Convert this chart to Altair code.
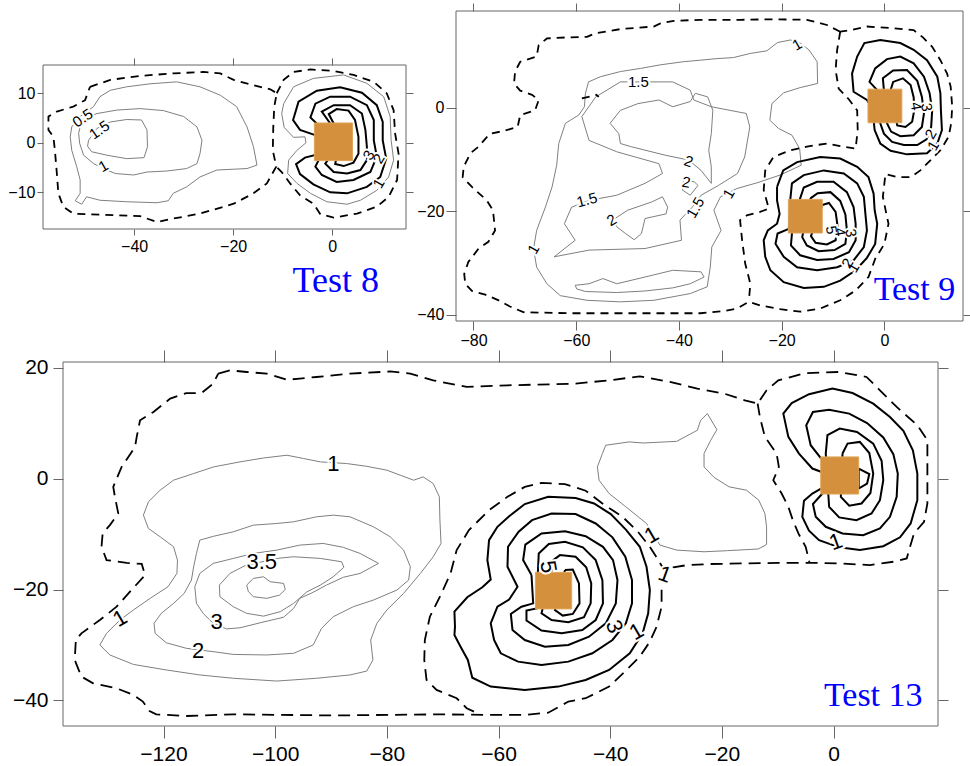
import altair as alt
import pandas as pd

ORANGE = "#d4903c"
GRAY = "#7f7f7f"

# ================= Test 8 =================
T8_XDOM = [-58.4, 14.9]
T8_YDOM = [-17.4, 15.7]
T8_XTICKS = [-40, -20, 0]
T8_YTICKS = [-10, 0, 10]

T8_DASH_A = [(-48.9, 11.3), (-44.8, 12.7), (-38.8, 13.5), (-32.1, 14.0), (-26.0, 14.3), (-22.6, 14.0),
             (-19.9, 12.7), (-15.9, 11.6), (-12.5, 10.8), (-11.2, 10.0), (-11.7, 7.3), (-11.9, 3.2),
             (-12.0, -1.5), (-11.3, -4.8), (-13.2, -8.2), (-15.9, -10.2), (-19.9, -12.3), (-26.7, -14.3),
             (-32.1, -15.3), (-35.4, -16.0), (-38.8, -14.8), (-44.2, -14.6), (-52.3, -14.3), (-54.3, -12.9),
             (-55.3, -10.2), (-55.6, -6.2), (-56.0, -1.5), (-56.3, 1.2), (-57.3, 2.6), (-57.3, 5.3),
             (-55.6, 6.3), (-52.3, 7.3), (-49.9, 8.6)]
T8_DASH_B = [(-11.2, 10.0), (-9.8, 12.7), (-7.8, 14.3), (-4.4, 14.8), (0.3, 14.5), (4.3, 13.7), (8.4, 12.3),
             (11.0, 10.0), (12.4, 6.6), (12.7, 1.9), (13.4, -2.2), (13.1, -7.5), (11.4, -10.9), (9.0, -12.9),
             (5.0, -14.3), (0.3, -15.1), (-2.4, -14.4), (-3.8, -12.3), (-6.5, -10.6), (-8.5, -8.2),
             (-10.2, -5.9), (-11.3, -4.8)]
T8_THIN_05 = [(-50.9, 5.3), (-48.2, 7.3), (-46.9, 9.3), (-44.8, 10.6), (-41.5, 11.3), (-36.8, 11.9),
              (-31.4, 12.3), (-26.7, 11.3), (-22.6, 9.6), (-19.3, 7.3), (-17.2, 3.2), (-15.9, -0.8),
              (-15.2, -4.5), (-17.2, -5.2), (-23.3, -5.5), (-26.7, -6.9), (-29.4, -8.9), (-32.1, -10.2),
              (-33.1, -11.7), (-35.4, -12.1), (-41.5, -11.9), (-46.9, -11.6), (-49.6, -10.9), (-50.6, -12.4),
              (-51.9, -11.7), (-50.9, -10.2), (-50.9, -7.5), (-51.6, -4.8), (-52.6, -1.5), (-52.9, 1.2),
              (-52.6, 3.2)]
T8_THIN_1 = [(-51.2, 1.9), (-50.6, 4.6), (-47.5, 5.9), (-43.5, 6.6), (-38.8, 6.9), (-34.1, 6.5), (-30.0, 5.3),
             (-27.3, 3.2), (-26.3, 0.5), (-26.7, -2.2), (-27.3, -4.2), (-29.4, -5.2), (-33.4, -5.7),
             (-37.4, -5.9), (-40.1, -6.5), (-43.8, -6.2), (-45.5, -5.5), (-48.2, -4.2), (-50.2, -2.5),
             (-51.0, -0.1)]
T8_THIN_15 = [(-49.2, 0.5), (-47.5, 2.9), (-44.8, 4.2), (-41.5, 4.7), (-38.5, 4.6), (-37.4, 2.6), (-37.3, -0.8),
              (-38.0, -3.0), (-41.5, -3.2), (-45.5, -2.5), (-48.6, -1.8), (-49.4, -0.7)]
T8_THIN_SRC = [(-9.8, 7.9), (-7.8, 11.3), (-3.8, 13.0), (2.3, 13.7), (7.0, 12.0), (10.4, 9.3), (11.7, 5.3),
               (11.9, 0.5), (12.4, -3.5), (11.4, -6.9), (9.0, -9.6), (5.7, -11.6), (3.0, -12.4), (-1.1, -11.9),
               (-4.4, -10.2), (-7.1, -8.2), (-9.0, -6.2), (-8.8, -3.5), (-7.1, -1.5), (-5.3, 0.0), (-5.5, 1.2),
               (-7.8, 1.1), (-9.7, 3.1), (-10.2, 5.9)]
T8_RING_1 = [(-2.4, 1.2), (-6.5, 2.6), (-7.9, 4.6), (-6.8, 8.3), (-3.1, 10.5), (1.6, 11.2), (6.0, 10.1),
             (9.0, 7.6), (10.2, 4.2), (10.2, 0.5), (10.9, -3.2), (9.7, -6.9), (7.0, -8.9), (3.0, -10.2),
             (-0.4, -10.0), (-3.8, -8.4), (-6.5, -6.3), (-7.3, -4.3), (-5.5, -3.0), (-2.4, -2.2)]
T8_RING_2 = [(-2.4, 3.2), (-4.4, 5.1), (-3.4, 7.9), (-0.4, 9.3), (3.6, 9.3), (7.0, 7.6), (8.4, 4.6), (8.4, 0.5),
             (9.0, -2.8), (7.7, -5.9), (4.3, -7.5), (0.9, -7.9), (-2.1, -6.5), (-3.4, -4.8), (-2.4, -2.8)]
T8_RING_3 = [(-0.4, 3.9), (-2.1, 6.3), (0.3, 7.6), (3.6, 7.6), (6.0, 5.9), (6.7, 2.6), (7.0, -0.8), (7.0, -3.5),
             (5.7, -5.5), (3.0, -6.2), (0.3, -5.9), (-1.4, -4.2), (-0.4, -2.8)]
T8_RING_4 = [(0.3, 3.9), (-0.7, 5.8), (0.9, 6.8), (3.3, 6.5), (4.6, 4.6), (5.3, 1.2), (5.3, -2.2), (4.3, -4.0),
             (2.3, -4.7), (0.6, -4.3), (0.9, -2.8)]
T8_BOXES = [(-3.6, 4.1, -3.6, 4.0)]
T8_LABELS = [("0.5", -50.4, 5.0, 325), ("1.5", -47.0, 2.6, 325), ("1", -46.2, -4.7, 330),
             ("3", 7.4, -2.5, 300), ("2", 9.4, -3.2, 300), ("1", 9.4, -8.2, 300)]
T8_NAME = ("Test 8", 0.7, -30.2)

# ================= Test 9 =================
T9_XDOM = [-83.4, 15.3]
T9_YDOM = [-41.2, 18.7]
T9_XTICKS = [-80, -60, -40, -20, 0]
T9_YTICKS = [-40, -20, 0]

T9_DASH_OUT = [(-8.6, 14.7), (-11.2, 16.0), (-15.1, 17.0), (-21.6, 17.1), (-28.1, 17.0), (-35.8, 17.0),
               (-41.0, 16.8), (-43.6, 16.3), (-44.9, 15.7), (-51.4, 15.2), (-56.3, 14.4), (-57.9, 13.7),
               (-61.8, 13.6), (-65.7, 13.4), (-67.3, 12.1), (-67.7, 9.9), (-70.9, 8.9), (-71.9, 7.0),
               (-72.1, 4.7), (-70.9, 3.3), (-68.6, 2.5), (-67.3, 1.5), (-68.0, -0.5), (-70.9, -1.4),
               (-71.4, -3.7), (-74.2, -4.5), (-76.8, -5.0), (-79.0, -7.5), (-80.6, -8.8), (-81.9, -11.4),
               (-82.1, -13.4), (-80.3, -15.3), (-77.4, -17.9), (-76.2, -19.8), (-75.8, -23.7), (-77.1, -25.9),
               (-79.0, -27.2), (-81.0, -29.8), (-81.8, -32.1), (-81.6, -34.0), (-80.3, -35.4), (-77.7, -36.1),
               (-75.1, -37.2), (-72.9, -38.4), (-70.3, -39.5), (-61.2, -39.7), (-48.2, -39.7), (-35.8, -39.7),
               (-31.3, -39.3), (-28.7, -38.8), (-26.4, -37.5), (-24.2, -38.2), (-20.3, -38.9), (-16.4, -39.4),
               (-12.5, -38.8), (-8.6, -37.2), (-5.6, -35.3), (-3.1, -32.7), (-1.8, -29.2), (0.0, -26.3),
               (0.8, -22.4), (0.5, -21.1), (-0.3, -17.2), (0.2, -12.8), (2.5, -13.4), (5.1, -13.4),
               (7.0, -12.1), (9.0, -10.1), (10.9, -8.2), (12.5, -5.6), (13.0, -3.0), (13.2, 0.2), (12.9, 4.1),
               (12.2, 6.6), (10.9, 9.2), (9.3, 11.8), (7.5, 13.6), (5.7, 15.0), (1.2, 15.4), (-3.4, 15.7),
               (-6.6, 15.0)]
T9_DASH_IN = [(-8.6, 14.7), (-9.2, 11.2), (-9.5, 7.3), (-8.9, 3.7), (-6.9, 1.6), (-5.3, -0.5), (-5.2, -4.3),
              (-5.6, -7.9), (-8.6, -7.4), (-11.2, -6.9), (-15.1, -7.5), (-18.3, -8.2), (-21.6, -9.5),
              (-23.2, -12.1), (-23.5, -15.9), (-22.5, -19.5), (-24.2, -20.1), (-26.8, -20.8), (-28.1, -21.7),
              (-27.7, -25.6), (-27.1, -30.1), (-26.1, -34.0), (-26.4, -37.5)]
T9_DASH_BIT = [(-58.9, 1.8), (-56.1, 2.5), (-55.6, 2.1)]
T9_THIN_1 = [(-68.3, -27.2), (-67.7, -23.7), (-66.0, -19.2), (-64.7, -15.3), (-63.8, -11.1), (-63.4, -6.9),
             (-62.1, -3.0), (-59.5, -1.4), (-58.4, 0.2), (-58.2, 2.8), (-57.6, 5.0), (-55.3, 6.0), (-51.4, 7.0),
             (-47.5, 7.6), (-43.6, 8.3), (-39.1, 8.9), (-35.8, 9.2), (-32.6, 9.5), (-29.4, 9.7), (-26.1, 10.5),
             (-22.9, 11.0), (-20.8, 12.6), (-18.3, 13.1), (-16.4, 12.5), (-14.7, 11.2), (-13.1, 8.9),
             (-13.0, 4.7), (-16.4, 3.9), (-19.6, 2.9), (-21.9, 0.8), (-22.3, -2.4), (-20.6, -4.0),
             (-18.0, -5.3), (-16.5, -7.9), (-16.2, -11.1), (-20.3, -13.0), (-24.8, -14.5), (-28.7, -15.6),
             (-31.9, -17.2), (-33.2, -19.8), (-31.8, -23.7), (-33.6, -26.9), (-33.9, -30.8), (-34.5, -34.6),
             (-37.8, -35.9), (-44.9, -37.2), (-51.4, -37.5), (-57.9, -37.2), (-63.1, -36.3), (-65.7, -34.0),
             (-67.7, -30.8)]
T9_THIN_15 = [(-48.0, 5.0), (-41.2, 5.0), (-37.8, 3.4), (-37.1, 1.5), (-33.7, 0.2), (-26.9, -1.1), (-26.2, -3.7),
              (-27.2, -9.5), (-28.6, -12.7), (-32.3, -15.0), (-35.7, -16.9), (-37.4, -19.2), (-39.8, -21.7),
              (-39.5, -25.6), (-46.6, -27.2), (-57.5, -27.5), (-64.3, -28.8), (-60.2, -25.6), (-62.3, -22.4),
              (-60.9, -19.2), (-57.5, -17.9), (-52.1, -16.9), (-46.6, -14.6), (-43.2, -12.7), (-43.9, -10.8),
              (-52.1, -8.5), (-57.5, -6.3), (-58.9, -1.7), (-56.2, 2.1), (-51.4, 5.0)]
T9_THIN_2A = [(-33.7, -14.6), (-35.7, -12.1), (-38.1, -10.1), (-42.5, -9.2), (-49.4, -7.5), (-51.4, -6.9),
              (-51.7, -5.0), (-53.4, -3.0), (-51.4, -0.5), (-48.0, 0.8), (-43.9, 1.5), (-41.2, 0.2), (-37.8, 1.2),
              (-36.8, 2.8), (-34.4, 2.1), (-33.4, -0.5), (-33.7, -5.0), (-34.2, -8.2), (-33.7, -11.4)]
T9_THIN_2B = [(-52.9, -21.7), (-50.0, -19.8), (-45.3, -18.2), (-43.2, -17.2), (-42.2, -19.2), (-42.5, -20.5),
              (-46.6, -21.4), (-47.3, -24.3), (-48.7, -25.5), (-50.4, -24.3), (-52.1, -23.0)]
T9_THIN_2C = [(-39.1, -14.0), (-37.0, -14.3), (-36.3, -15.0), (-37.8, -16.9), (-39.3, -15.9)]
T9_THIN_BOT = [(-60.2, -34.3), (-57.5, -34.0), (-54.8, -33.0), (-52.1, -34.0), (-46.6, -32.7), (-41.2, -31.4),
               (-35.7, -31.7), (-35.1, -32.7), (-37.8, -34.0), (-41.2, -34.8), (-46.6, -35.4), (-52.1, -35.7),
               (-58.2, -35.5), (-59.9, -35.0)]
T9_UP_1 = [(-2.1, -0.5), (-3.4, 1.5), (-6.0, 3.1), (-6.3, 6.6), (-5.3, 9.9), (-3.9, 12.5), (-0.8, 13.1),
           (3.1, 12.5), (5.7, 11.2), (8.3, 9.2), (10.3, 6.0), (10.9, 2.8), (11.0, -0.5), (11.2, -4.3),
           (10.3, -6.9), (8.3, -8.8), (4.4, -9.0), (1.2, -8.3), (-0.8, -6.9), (-1.9, -4.3), (-2.1, -2.4)]
T9_UP_2 = [(-1.4, 3.4), (-2.9, 5.0), (-1.8, 7.6), (0.5, 9.4), (3.1, 9.9), (5.7, 8.6), (7.7, 6.0), (8.8, 2.8),
           (9.3, -0.5), (9.1, -3.7), (8.2, -6.1), (6.4, -7.2), (3.8, -7.2), (1.5, -6.6), (-0.1, -5.0),
           (-0.8, -3.0)]
T9_UP_3 = [(-0.1, 3.4), (-0.3, 5.7), (1.7, 7.2), (4.4, 7.3), (6.4, 5.2), (7.3, 2.1), (7.7, -1.1), (7.3, -3.7),
           (5.7, -5.3), (3.1, -5.5), (1.3, -4.6), (0.5, -3.0)]
T9_UP_4 = [(1.2, 3.4), (1.7, 5.0), (3.6, 5.7), (5.1, 4.4), (5.7, 2.0), (5.8, -0.5), (5.4, -2.7), (4.1, -3.7),
           (2.5, -3.4)]
T9_LO_1 = [(-20.9, -15.3), (-19.7, -12.1), (-17.0, -10.5), (-12.5, -9.5), (-8.6, -9.8), (-5.3, -11.4),
           (-3.1, -13.4), (-2.1, -16.6), (-1.9, -19.8), (-1.4, -22.4), (-1.8, -26.3), (-3.4, -29.0),
           (-5.6, -31.4), (-8.6, -33.4), (-11.8, -34.6), (-15.7, -34.8), (-19.6, -33.7), (-22.2, -31.4),
           (-23.2, -28.8), (-23.5, -25.6), (-22.7, -23.7), (-20.9, -22.4), (-20.4, -20.5), (-20.9, -17.9)]
T9_LO_2 = [(-18.3, -17.5), (-18.0, -14.6), (-15.7, -13.0), (-11.8, -12.1), (-7.9, -12.7), (-5.3, -14.6),
           (-4.0, -17.2), (-3.7, -20.5), (-3.4, -23.7), (-4.0, -26.9), (-6.0, -29.5), (-9.2, -30.8),
           (-13.1, -31.4), (-17.0, -30.8), (-19.6, -28.8), (-21.2, -26.3), (-20.8, -24.3), (-18.6, -23.4)]
T9_LO_3 = [(-16.4, -17.5), (-15.7, -15.4), (-13.1, -14.3), (-9.9, -14.3), (-7.3, -16.3), (-6.0, -19.2),
           (-5.6, -22.4), (-5.6, -25.6), (-6.9, -27.9), (-9.9, -29.2), (-13.1, -29.4), (-16.4, -28.5),
           (-18.2, -26.6), (-18.0, -24.3)]
T9_LO_4 = [(-14.4, -17.5), (-13.0, -16.5), (-10.5, -16.3), (-8.6, -18.0), (-7.6, -20.6), (-7.3, -23.7),
           (-7.6, -26.3), (-9.7, -27.5), (-12.8, -27.7), (-15.1, -26.6), (-16.0, -25.0)]
T9_LO_5 = [(-12.1, -18.8), (-10.8, -18.4), (-9.5, -20.1), (-9.1, -23.0), (-9.5, -25.6), (-11.2, -26.4),
           (-13.4, -26.1), (-14.3, -24.8)]
T9_BOXES = [(-3.2, 3.4, -2.9, 3.6), (-18.7, -12.1, -24.2, -17.7)]
T9_LABELS = [("1", -17.0, 12.2, 330), ("1.5", -47.9, 5.0, 0), ("2", -38.1, -10.4, 20), ("2", -38.6, -14.4, 10),
             ("1.5", -57.9, -17.8, 345), ("2", -53.1, -21.7, 330), ("1.5", -36.8, -19.3, 300),
             ("1", -30.3, -16.6, 300), ("1", -68.3, -27.3, 300), ("4", 6.2, 0.3, 80), ("3", 8.2, 0.1, 80),
             ("2", 9.0, -5.1, 300), ("1", 9.5, -7.3, 300), ("5", -10.3, -23.6, 80), ("4", -8.6, -24.0, 80),
             ("3", -6.5, -24.2, 80), ("2", -7.2, -30.0, 300), ("1", -6.0, -30.9, 300)]
T9_NAME = ("Test 9", 5.85, -37.1)

# ================= Test 13 =================
T13_XDOM = [-138.0, 18.7]
T13_YDOM = [-44.6, 21.0]
T13_XTICKS = [-120, -100, -80, -60, -40, -20, 0]
T13_YTICKS = [-40, -20, 0, 20]

T13_DASH_OUT = [(-110.2, 18.9), (-108.1, 19.5), (-105.1, 19.2), (-101.5, 18.9), (-97.9, 17.8), (-95.6, 18.0),
                (-92.6, 18.3), (-86.6, 18.9), (-79.4, 19.3), (-75.8, 18.9), (-71.7, 17.7), (-65.7, 16.5),
                (-58.4, 16.8), (-46.2, 17.1), (-40.2, 17.7), (-34.7, 18.4), (-29.3, 17.4), (-24.4, 16.2),
                (-19.6, 15.3), (-15.9, 14.1), (-13.6, 13.5), (-12.0, 15.9), (-9.9, 17.7), (-5.0, 19.0),
                (1.0, 19.2), (5.9, 18.3), (8.3, 15.9), (11.3, 12.9), (15.0, 9.6), (16.8, 6.9), (16.8, 0.9),
                (16.8, -4.5), (16.2, -7.8), (14.4, -9.9), (13.6, -12.6), (13.1, -14.4), (10.7, -15.0),
                (6.5, -15.6), (1.0, -15.3), (-3.8, -15.2), (-9.9, -15.2), (-15.9, -15.3), (-22.0, -15.4),
                (-26.2, -15.6), (-28.7, -16.0), (-30.0, -17.1), (-30.8, -19.5), (-30.8, -23.1), (-31.7, -26.7),
                (-32.9, -29.4), (-34.7, -32.1), (-37.4, -34.8), (-40.2, -37.5), (-44.4, -39.6), (-47.5, -40.2),
                (-51.1, -42.2), (-55.3, -42.6), (-61.4, -42.6), (-70.5, -42.5), (-89.6, -42.7), (-107.5, -42.5),
                (-115.9, -42.8), (-121.3, -42.5), (-122.5, -41.9), (-123.7, -40.2), (-125.4, -39.0),
                (-128.4, -37.8), (-132.6, -36.9), (-134.7, -35.7), (-135.9, -32.7), (-135.7, -29.1),
                (-134.7, -27.9), (-131.4, -25.5), (-128.4, -23.1), (-126.0, -20.4), (-123.3, -17.4),
                (-123.9, -15.4), (-126.6, -15.2), (-130.2, -14.7), (-131.1, -12.3), (-130.9, -9.9),
                (-129.6, -8.4), (-128.1, -6.3), (-128.7, -3.3), (-129.0, -1.5), (-127.5, 2.1), (-125.1, 5.7),
                (-124.8, 7.5), (-124.2, 10.5), (-121.8, 12.0), (-118.8, 14.4), (-115.9, 15.4), (-113.2, 15.4),
                (-111.1, 17.1)]
T13_DASH_IN1 = [(-13.6, 13.5), (-13.2, 11.1), (-12.3, 7.5), (-10.2, 4.5), (-9.8, 2.1), (-10.8, -0.3), (-9.3, -2.7),
                (-8.1, -5.1), (-7.3, -7.5), (-6.3, -9.9), (-5.0, -12.3), (-4.3, -15.2)]
T13_DASH_IN2 = [(-30.0, -17.1), (-31.4, -14.7), (-32.9, -12.3), (-35.2, -9.4), (-37.8, -6.9), (-41.4, -4.5),
                (-44.4, -2.2), (-48.1, -1.0), (-52.3, -0.8), (-55.3, -1.5), (-58.4, -3.3), (-61.7, -5.7),
                (-65.3, -9.3), (-67.5, -12.9), (-68.6, -17.1), (-70.5, -21.3), (-72.3, -24.9), (-73.2, -29.1),
                (-73.3, -32.7), (-72.9, -36.3), (-71.1, -38.1), (-67.5, -39.6), (-65.7, -41.4), (-63.3, -42.5)]
T13_THIN_1 = [(-87.2, 2.7), (-83.6, 2.2), (-80.0, 1.5), (-77.6, 0.6), (-75.2, -0.3), (-73.5, 0.3), (-71.7, -0.9),
              (-70.6, -3.3), (-70.5, -7.5), (-70.3, -11.7), (-71.7, -14.1), (-74.0, -17.1), (-77.0, -20.7),
              (-80.0, -23.7), (-81.8, -26.1), (-82.9, -29.1), (-82.5, -32.7), (-83.6, -34.7), (-86.6, -35.4),
              (-92.6, -36.0), (-99.7, -36.5), (-107.5, -36.0), (-113.5, -35.4), (-119.5, -34.5), (-125.4, -33.5),
              (-129.6, -31.8), (-131.4, -30.0), (-130.2, -27.9), (-127.8, -25.5), (-125.4, -23.7),
              (-122.4, -21.6), (-119.2, -19.5), (-117.6, -17.1), (-117.5, -14.7), (-118.2, -12.3),
              (-120.6, -10.5), (-122.7, -9.0), (-123.6, -6.6), (-122.7, -4.2), (-120.6, -2.1), (-118.2, -0.3),
              (-114.6, 0.9), (-111.0, 2.1), (-106.3, 3.0), (-102.1, 3.7), (-97.9, 4.2), (-94.9, 3.6),
              (-91.9, 3.0)]
T13_THIN_2 = [(-113.5, -11.1), (-111.0, -10.4), (-107.5, -9.6), (-103.9, -8.4), (-99.7, -8.1), (-96.7, -7.8),
              (-92.6, -6.9), (-89.6, -6.6), (-86.6, -6.9), (-82.4, -8.7), (-79.4, -10.5), (-77.0, -12.9),
              (-75.8, -15.9), (-76.1, -18.3), (-78.2, -20.1), (-82.4, -21.9), (-86.0, -23.1), (-89.6, -24.9),
              (-91.7, -27.0), (-93.2, -30.0), (-96.7, -31.5), (-101.5, -31.8), (-107.5, -31.7), (-111.1, -31.2),
              (-115.9, -30.6), (-119.5, -29.6), (-121.5, -27.9), (-121.7, -26.1), (-120.4, -24.3),
              (-118.2, -22.5), (-116.3, -20.7), (-115.0, -18.3), (-114.6, -15.9), (-114.1, -13.5)]
T13_THIN_3 = [(-113.5, -17.1), (-111.1, -15.3), (-107.5, -14.4), (-103.9, -13.5), (-99.7, -12.9), (-95.6, -12.0),
              (-91.4, -11.7), (-87.8, -12.4), (-84.8, -13.5), (-81.5, -15.3), (-84.8, -17.1), (-87.8, -17.8),
              (-90.8, -19.2), (-93.4, -20.6), (-95.6, -21.6), (-96.7, -23.4), (-98.5, -25.0), (-102.7, -26.0),
              (-106.3, -26.9), (-108.7, -27.1), (-111.1, -26.1), (-112.9, -24.3), (-114.1, -22.5),
              (-114.4, -19.5)]
T13_THIN_35 = [(-99.7, -14.4), (-96.7, -14.1), (-91.9, -14.4), (-88.1, -15.0), (-87.7, -16.0), (-89.6, -17.7),
               (-91.9, -19.2), (-94.3, -20.4), (-96.7, -22.5), (-99.1, -24.0), (-102.1, -24.8), (-105.1, -24.3),
               (-107.5, -23.1), (-109.9, -21.3), (-110.0, -19.2), (-108.1, -17.1), (-105.4, -15.7)]
T13_THIN_4 = [(-105.1, -19.2), (-103.9, -18.0), (-102.1, -17.7), (-100.9, -18.6), (-98.5, -18.9), (-98.2, -20.0),
              (-99.2, -21.0), (-101.5, -21.6), (-103.9, -21.3), (-104.8, -20.4)]
T13_THIN_MID = [(-41.4, 4.5), (-40.8, 6.0), (-36.6, 6.6), (-34.1, 6.4), (-28.1, 6.7), (-24.4, 8.7), (-23.8, 10.5),
                (-22.6, 11.7), (-20.9, 8.8), (-22.0, 6.9), (-23.2, 4.5), (-23.2, 2.1), (-21.4, 0.2), (-18.7, -1.5),
                (-15.6, -2.1), (-13.4, -3.9), (-12.3, -6.3), (-12.0, -8.7), (-12.0, -11.9), (-13.5, -12.7),
                (-19.0, -13.0), (-23.2, -13.2), (-28.1, -12.9), (-31.1, -12.0), (-33.5, -8.1), (-37.2, -5.1),
                (-40.2, -2.7), (-42.0, -0.3), (-42.3, 2.1)]
T13_LO_1 = [(-67.8, -26.7), (-67.9, -24.0), (-65.6, -21.4), (-62.9, -19.6), (-61.4, -18.2), (-62.0, -14.7),
            (-61.7, -11.1), (-60.2, -8.7), (-58.1, -6.8), (-55.3, -4.6), (-51.1, -3.3), (-46.2, -3.5),
            (-42.9, -4.5), (-39.9, -6.4), (-37.2, -9.2), (-34.7, -12.3), (-33.5, -15.9), (-32.9, -20.1),
            (-33.2, -24.3), (-34.2, -27.9), (-36.5, -31.5), (-40.2, -34.5), (-44.4, -36.3), (-49.3, -37.5),
            (-55.3, -38.1), (-61.4, -37.5), (-64.7, -35.9), (-65.5, -32.7), (-66.8, -30.3), (-67.9, -28.2)]
T13_LO_2 = [(-60.8, -29.1), (-61.4, -26.1), (-60.2, -23.1), (-58.1, -21.8), (-56.6, -19.5), (-58.4, -15.9),
            (-58.3, -12.3), (-56.4, -9.6), (-54.0, -7.5), (-50.5, -6.3), (-46.2, -6.4), (-42.6, -8.1),
            (-39.6, -10.6), (-37.3, -14.1), (-36.1, -18.3), (-36.1, -22.5), (-37.2, -26.1), (-39.6, -29.1),
            (-43.2, -31.5), (-47.5, -33.0), (-52.3, -33.6), (-56.5, -33.0), (-59.6, -31.5)]
T13_LO_3 = [(-54.1, -17.4), (-55.6, -14.7), (-55.2, -11.9), (-52.3, -9.9), (-48.1, -9.5), (-44.4, -10.4),
            (-41.3, -12.3), (-39.5, -14.7), (-38.7, -18.3), (-39.0, -22.5), (-40.8, -26.1), (-43.8, -28.5),
            (-47.5, -30.0), (-51.7, -30.3), (-55.3, -29.1), (-57.5, -27.3), (-57.8, -24.4), (-55.9, -23.1),
            (-53.8, -22.5)]
T13_LO_4 = [(-52.9, -15.6), (-52.8, -13.5), (-51.0, -11.8), (-48.1, -11.4), (-44.9, -12.4), (-42.6, -14.7),
            (-41.4, -18.3), (-41.3, -22.5), (-42.6, -25.5), (-45.0, -27.3), (-48.7, -27.9), (-52.3, -27.4),
            (-55.0, -25.6), (-55.0, -23.8), (-53.2, -23.4)]
T13_LO_5 = [(-50.5, -16.5), (-50.2, -14.7), (-49.0, -13.8), (-46.2, -14.1), (-44.3, -16.0), (-43.4, -18.9),
            (-43.5, -22.5), (-44.7, -25.0), (-47.5, -25.9), (-50.5, -25.5), (-52.3, -24.3)]
T13_LO_6 = [(-48.1, -16.5), (-46.7, -16.4), (-45.6, -18.9), (-45.5, -22.5), (-46.7, -24.4), (-48.5, -24.7),
            (-49.9, -23.7)]
T13_RT_1 = [(-1.4, 0.9), (-3.8, 1.8), (-6.2, 4.5), (-8.1, 7.5), (-9.0, 11.7), (-7.5, 13.6), (-4.4, 15.2),
            (-0.2, 16.2), (3.4, 15.4), (7.1, 13.5), (10.1, 11.1), (12.5, 8.6), (14.2, 5.1), (15.0, 0.9),
            (15.0, -3.9), (13.8, -8.1), (11.9, -10.6), (8.9, -12.2), (4.7, -12.9), (1.0, -12.4), (-2.6, -11.1),
            (-4.4, -9.4), (-5.6, -6.9), (-5.3, -4.0), (-3.8, -2.7), (-1.7, -1.5)]
T13_RT_2 = [(-2.0, 3.3), (-4.1, 6.0), (-4.9, 9.6), (-3.7, 12.0), (-0.8, 12.4), (2.8, 11.7), (6.0, 10.0),
            (8.9, 7.4), (10.7, 4.4), (11.5, 0.9), (11.3, -3.3), (10.1, -6.9), (8.3, -9.0), (5.3, -10.2),
            (1.6, -9.9), (-1.4, -8.7), (-3.2, -6.9), (-3.7, -4.6), (-2.0, -2.7)]
T13_RT_3 = [(-1.4, 4.5), (-1.1, 7.8), (1.1, 9.0), (4.2, 8.4), (7.1, 6.3), (8.6, 3.2), (8.9, -0.3), (8.3, -3.9),
            (6.8, -6.3), (4.1, -7.5), (1.0, -7.0), (-0.8, -5.1)]
T13_RT_4 = [(1.6, 4.5), (2.5, 6.3), (4.7, 6.6), (6.4, 4.6), (7.1, 0.9), (6.6, -2.6), (5.0, -4.5), (2.8, -4.9),
            (1.3, -3.3)]
T13_RT_5 = [(4.5, 1.8), (6.4, 0.8), (6.0, -0.9), (4.5, -1.8)]
T13_BOXES = [(-2.3, 4.5, -2.8, 3.9), (-53.4, -46.9, -23.5, -16.9)]
T13_LABELS = [("1", -89.6, 2.7, 0), ("1", -127.8, -25.2, 330), ("3.5", -102.4, -15.0, 0), ("3", -110.5, -25.8, 0),
              ("2", -113.8, -31.0, 0), ("5", -51.1, -15.9, 80), ("3", -39.3, -26.7, 70), ("1", -35.3, -27.6, 330),
              ("1", -32.6, -10.2, 330), ("1", -30.2, -17.3, 20), ("1", 0.4, -11.4, 340)]
T13_NAME = ("Test 13", 7.1, -41.0)

# page size and where each panel's frame sits on the page (pixels)
W, H = 970, 766


def lines_df(specs):
    rows = []
    for lid, (pts, style, closed) in enumerate(specs):
        seq = list(pts) + ([pts[0]] if closed else [])
        for i, (x, y) in enumerate(seq):
            rows.append({"line": lid, "ord": i, "x": x, "y": y, "style": style})
    return pd.DataFrame(rows)


def make_panel(P):
    left, right, top, bot = P["frame"]
    xs = alt.Scale(domain=P["xdom"], range=[left, right], nice=False, zero=False)
    ys = alt.Scale(domain=P["ydom"], range=[bot, top], nice=False, zero=False)
    common = dict(grid=False, domain=False, tickColor="#666", tickWidth=1, labelFont="Liberation Sans",
                  labelColor="black", labelFontSize=P["fs"], title=None, labelFlush=False, labelOverlap=False)
    ax_b = alt.Axis(orient="bottom", values=P["xticks"], tickSize=P["tb"], labelPadding=P["pb"],
                    offset=bot - H, **common)
    ax_l = alt.Axis(orient="left", values=P["yticks"], tickSize=P["tl"], labelPadding=P["pl"],
                    offset=-left, **common)
    ax_t = alt.Axis(orient="top", values=P["xticks"], tickSize=P["tt"], labels=False, offset=-top, **common)
    ax_r = alt.Axis(orient="right", values=P["yticks"], tickSize=P["tr"], labels=False,
                    offset=right - W, **common)

    fdf = pd.DataFrame({"x0": [P["xdom"][0]], "x1": [P["xdom"][1]],
                        "y0": [P["ydom"][0]], "y1": [P["ydom"][1]]})
    frame = alt.Chart(fdf).mark_rect(fillOpacity=0, stroke="#666", strokeWidth=1).encode(
        x=alt.X("x0:Q", scale=xs, axis=None), x2="x1:Q",
        y=alt.Y("y0:Q", scale=ys, axis=None), y2="y1:Q")

    ld = lines_df(P["lines"])
    thin = alt.Chart(ld[ld["style"] == "thin"]).mark_line(color=GRAY, strokeWidth=1).encode(
        x=alt.X("x:Q", scale=xs, axis=ax_b), y=alt.Y("y:Q", scale=ys, axis=ax_l),
        detail="line:N", order="ord:Q")
    thick = alt.Chart(ld[ld["style"] == "thick"]).mark_line(color="black", strokeWidth=2).encode(
        x=alt.X("x:Q", scale=xs, axis=None), y=alt.Y("y:Q", scale=ys, axis=None),
        detail="line:N", order="ord:Q")
    dash = alt.Chart(ld[ld["style"] == "dash"]).mark_line(color="black", strokeWidth=1.8,
                                                           strokeDash=P["dash"]).encode(
        x=alt.X("x:Q", scale=xs, axis=None), y=alt.Y("y:Q", scale=ys, axis=None),
        detail="line:N", order="ord:Q")
    bdf = pd.DataFrame(P["boxes"], columns=["x0", "x1", "y0", "y1"])
    boxes = alt.Chart(bdf).mark_rect(color=ORANGE, stroke="#e0a55a", strokeWidth=1).encode(
        x=alt.X("x0:Q", scale=xs, axis=ax_t), x2="x1:Q",
        y=alt.Y("y0:Q", scale=ys, axis=ax_r), y2="y1:Q")
    ldf = pd.DataFrame(P["labels"], columns=["t", "x", "y", "a"])
    halo = alt.Chart(ldf).mark_text(font="Liberation Sans", fontSize=P["lfs"], color="white", stroke="white",
                                    strokeWidth=4).encode(
        x=alt.X("x:Q", scale=xs, axis=None), y=alt.Y("y:Q", scale=ys, axis=None),
        text="t:N", angle=alt.Angle("a:Q", scale=None))
    labs = alt.Chart(ldf).mark_text(font="Liberation Sans", fontSize=P["lfs"], color="black").encode(
        x=alt.X("x:Q", scale=xs, axis=None), y=alt.Y("y:Q", scale=ys, axis=None),
        text="t:N", angle=alt.Angle("a:Q", scale=None))
    ndf = pd.DataFrame([P["name"]], columns=["t", "x", "y"])
    name = alt.Chart(ndf).mark_text(font="Liberation Serif", fontSize=P["nfs"], color="#0000ff",
                                    align="center", baseline="alphabetic").encode(
        x=alt.X("x:Q", scale=xs, axis=None), y=alt.Y("y:Q", scale=ys, axis=None), text="t:N")
    return [frame, thin, thick, dash, boxes, halo, labs, name]


P8 = dict(xdom=T8_XDOM, ydom=T8_YDOM, xticks=T8_XTICKS, yticks=T8_YTICKS, frame=(43, 406, 65, 229),
          fs=16, tb=6, pb=3, tl=6, pl=2, tt=7, tr=7, dash=[8, 6], lfs=15, nfs=36, name=T8_NAME,
          boxes=T8_BOXES, labels=T8_LABELS,
          lines=[(T8_DASH_A, "dash", True), (T8_DASH_B, "dash", False),
                 (T8_THIN_05, "thin", True), (T8_THIN_1, "thin", True), (T8_THIN_15, "thin", True),
                 (T8_THIN_SRC, "thin", True), (T8_RING_1, "thick", True), (T8_RING_2, "thick", True),
                 (T8_RING_3, "thick", True), (T8_RING_4, "thick", True)])
P9 = dict(xdom=T9_XDOM, ydom=T9_YDOM, xticks=T9_XTICKS, yticks=T9_YTICKS, frame=(456, 963, 11, 321),
          fs=16, tb=9, pb=2, tl=10, pl=2, tt=8, tr=7, dash=[8, 6], lfs=15, nfs=34, name=T9_NAME,
          boxes=T9_BOXES, labels=T9_LABELS,
          lines=[(T9_DASH_OUT, "dash", True), (T9_DASH_IN, "dash", False), (T9_DASH_BIT, "dash", False),
                 (T9_THIN_1, "thin", True), (T9_THIN_15, "thin", True), (T9_THIN_2A, "thin", True),
                 (T9_THIN_2B, "thin", True), (T9_THIN_2C, "thin", True), (T9_THIN_BOT, "thin", True),
                 (T9_UP_1, "thick", True), (T9_UP_2, "thick", True), (T9_UP_3, "thick", True),
                 (T9_UP_4, "thick", True), (T9_LO_1, "thick", True), (T9_LO_2, "thick", True),
                 (T9_LO_3, "thick", True), (T9_LO_4, "thick", True), (T9_LO_5, "thick", True)])
P13 = dict(xdom=T13_XDOM, ydom=T13_YDOM, xticks=T13_XTICKS, yticks=T13_YTICKS, frame=(63, 938, 362, 726),
           fs=21, tb=12, pb=5, tl=10, pl=5, tt=12, tr=10, dash=[12, 7], lfs=22, nfs=34, name=T13_NAME,
           boxes=T13_BOXES, labels=T13_LABELS,
           lines=[(T13_DASH_OUT, "dash", True), (T13_DASH_IN1, "dash", False), (T13_DASH_IN2, "dash", False),
                  (T13_THIN_1, "thin", True), (T13_THIN_2, "thin", True), (T13_THIN_3, "thin", True),
                  (T13_THIN_35, "thin", True), (T13_THIN_4, "thin", True), (T13_THIN_MID, "thin", True),
                  (T13_LO_1, "thick", True), (T13_LO_2, "thick", True), (T13_LO_3, "thick", True),
                  (T13_LO_4, "thick", True), (T13_LO_5, "thick", True), (T13_LO_6, "thick", True),
                  (T13_RT_1, "thick", True), (T13_RT_2, "thick", True), (T13_RT_3, "thick", True),
                  (T13_RT_4, "thick", True), (T13_RT_5, "thick", True)])

layers = make_panel(P8) + make_panel(P9) + make_panel(P13)

chart = alt.layer(*layers).resolve_scale(x="independent", y="independent").resolve_axis(
    x="independent", y="independent").properties(
    width=W, height=H, padding=0, autosize=alt.AutoSizeParams(type="none")
).configure_view(stroke="transparent")

chart.save("out.html", embed_options={"renderer": "svg", "actions": False})
